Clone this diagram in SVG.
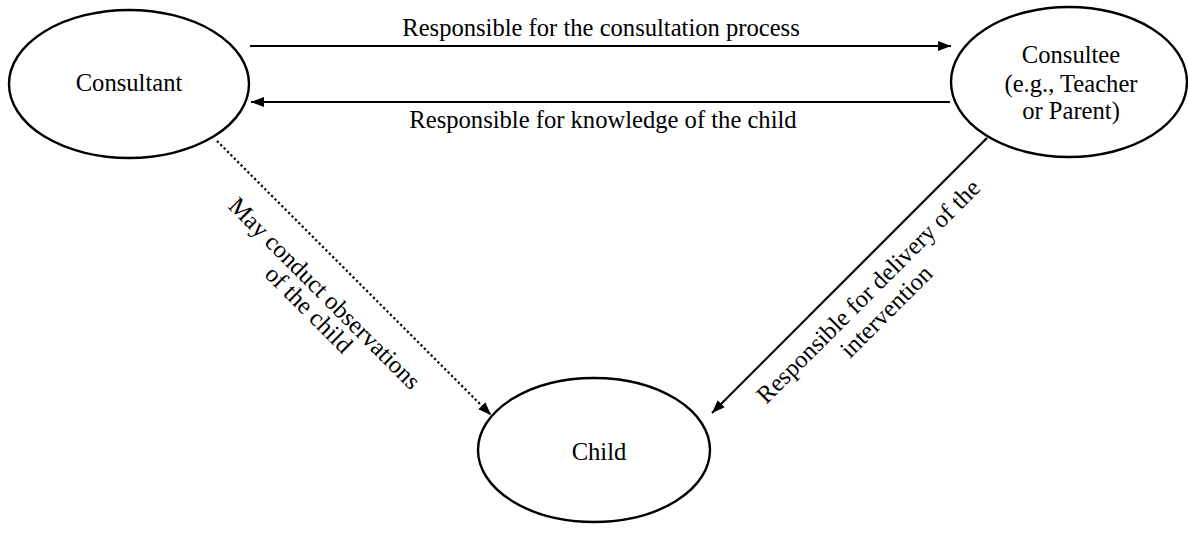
<svg xmlns="http://www.w3.org/2000/svg" width="1188" height="533" viewBox="0 0 1188 533">
<style>
text{font-family:"Liberation Serif","Times New Roman",serif;font-size:24.6px;fill:#000;text-anchor:middle}
.node{fill:#fff;stroke:#000;stroke-width:2.4}
.edge{stroke:#000;stroke-width:2.2;fill:none}
.dot{stroke-dasharray:2.2 2.6}
</style>
<defs>
<marker id="ah" viewBox="0 0 13 10" refX="13" refY="5" markerWidth="13" markerHeight="10" markerUnits="userSpaceOnUse" orient="auto">
<path d="M0,0 L13,5 L0,10 Z" fill="#000"/>
</marker>
</defs>
<g id="consultant"><ellipse class="node" cx="129" cy="84" rx="120" ry="74"/><text x="129" y="91">Consultant</text></g>
<g id="consultee"><ellipse class="node" cx="1069" cy="82" rx="118" ry="75"/><text x="1071" y="63">Consultee</text><text x="1071" y="91.5">(e.g., Teacher</text><text x="1071" y="119">or Parent)</text></g>
<g id="child"><ellipse class="node" cx="594" cy="450" rx="116" ry="72"/><text x="599" y="460">Child</text></g>
<g id="connectors">
<line class="edge" x1="250" y1="46" x2="951" y2="46" marker-end="url(#ah)"/>
<line class="edge" x1="950" y1="102" x2="251" y2="102" marker-end="url(#ah)"/>
<line class="edge dot" x1="217" y1="141" x2="491" y2="415" marker-end="url(#ah)"/>
<line class="edge" x1="987" y1="138" x2="712" y2="413" marker-end="url(#ah)"/>
<text x="601" y="36">Responsible for the consultation process</text>
<text x="603" y="128">Responsible for knowledge of the child</text>
<text transform="translate(319,299) rotate(45)">May conduct observations</text>
<text transform="translate(303,315) rotate(45)">of the child</text>
<text transform="translate(874,297) rotate(-45)">Responsible for delivery of the</text>
<text transform="translate(892,317) rotate(-45)">intervention</text>
</g>
</svg>
